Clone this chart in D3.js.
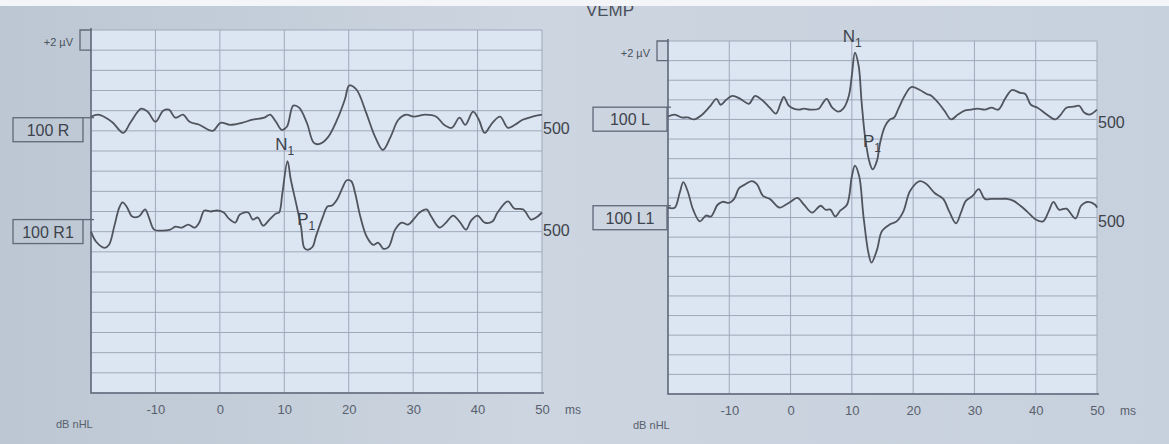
<!DOCTYPE html>
<html lang="en">
<head>
    <meta charset="UTF-8">
    <title>VEMP</title>
    <style>
        body {
            margin: 0;
            background: #c9d3df;
            font-family: 'Liberation Sans', Arial, sans-serif;
        }
        svg text {
            font-family: 'Liberation Sans', Arial, sans-serif;
        }
    </style>
</head>
<body>
    <div id="chart"></div>

    <script src="https://d3js.org/d3.v7.min.js"></script>
    <script>
        // time ticks (ms) shown under each panel
        const timeTicks = [-10, 0, 10, 20, 30, 40, 50];
        const timeDomain = [-20, 50];
        // amplitude range in uV (0 at the top of the grid, 2 uV per row)
        const ampDomain = [-36, 0];
        const ampStep = 2;

        // traces: [ms, uV relative to the trace baseline]
        const traceR = [[-20,0.4],[-18.9,0.6],[-17.7,0.3],[-16.6,-0.2],[-15,-1.2],[-13.9,-0.2],[-12.2,1.2],[-11.2,0.9],[-10,-0.1],[-8.8,1.0],[-7.9,1.1],[-6.9,0.3],[-5.7,0.6],[-4.7,-0.1],[-3.2,-0.4],[-1.1,-1.0],[0.1,-0.2],[1.6,-0.4],[3.4,-0.2],[5.1,0.1],[6.9,0.3],[7.8,0.6],[8.7,-0.1],[9.6,-0.9],[10.4,-0.6],[11.4,1.5],[12.3,1.3],[13.5,-0.2],[14.6,-2.2],[15.5,-2.3],[16.7,-1.7],[18.2,0.1],[19.4,2.1],[20.1,3.5],[21.2,3.1],[22.7,0.8],[24.1,-1.6],[25.3,-2.9],[26.5,-1.6],[27.7,0.1],[28.9,0.6],[30.1,0.4],[31.9,0.6],[33.6,0.4],[34.8,-0.4],[36,-0.7],[37.2,0.3],[38.1,-0.4],[39.3,0.9],[40.2,0.1],[41.1,-1.2],[42.3,-0.2],[43.5,0.4],[44.7,-0.7],[45.8,-0.4],[47,0.1],[48.5,0.4],[50,0.6]];
        const traceR1 = [[-20,-1.0],[-19.2,-2.0],[-17.9,-2.6],[-17.2,-2.3],[-16.4,-0.5],[-15.6,1.4],[-15.1,1.9],[-14.4,1.4],[-13.6,0.5],[-12.6,0.5],[-11.6,1.2],[-11,0.4],[-10.2,-0.8],[-9,-0.9],[-7.7,-0.8],[-6.9,-0.5],[-5.9,-0.6],[-4.9,-0.3],[-3.9,-0.6],[-3.2,-0.1],[-2.4,1.1],[-1.4,1.0],[-0.4,1.1],[0.6,0.9],[1.4,0.3],[2.4,-0.1],[3.1,0.7],[4.4,0.9],[5.1,0.2],[5.9,0.4],[6.7,-0.4],[7.7,0.2],[8.7,0.8],[9.2,0.9],[9.7,2.8],[10.5,6.0],[11,4.2],[11.8,1.9],[12.6,-0.5],[13.1,-2.6],[13.6,-2.8],[14.4,-2.5],[14.9,-1.5],[16,0.5],[16.7,1.5],[17.4,1.6],[18.2,2.2],[19,3.3],[19.7,4.1],[20.4,4.0],[21,2.8],[21.8,0.5],[22.8,-1.5],[23.8,-2.3],[24.6,-2.1],[25.4,-2.7],[26.2,-2.5],[27.2,-0.8],[28.2,-0.1],[29.2,-0.3],[30.3,0.4],[31,0.9],[32.1,1.2],[32.8,0.5],[34.1,-0.6],[35.1,-0.1],[36.2,0.6],[37.2,0.0],[38.2,-0.8],[39,0.1],[40,0.6],[41.1,-0.1],[42.3,0.0],[43.1,0.9],[44.7,2.0],[45.7,1.3],[47.1,1.2],[48.3,0.2],[49.1,0.4],[50,0.9]];
        const traceL = [[-20,0.3],[-18.9,0.5],[-17.8,0.2],[-16.8,0.2],[-15.7,0.0],[-14.6,0.4],[-13.2,1.3],[-12.1,2.1],[-11.4,1.5],[-10.5,2.0],[-9.5,2.4],[-8.2,2.1],[-6.8,1.6],[-5.8,2.4],[-4.7,2.0],[-3.4,1.2],[-2.4,0.6],[-1.6,1.7],[-1.1,2.3],[-0.3,1.4],[0.5,1.1],[1.4,1.0],[2.2,1.1],[3.2,1.0],[4.6,1.1],[5.4,1.8],[5.9,2.1],[6.8,1.2],[7.8,0.8],[8.6,1.1],[9.5,2.4],[10,4.5],[10.5,6.8],[11.1,5.5],[11.6,1.7],[12.2,-2.0],[12.9,-4.4],[13.4,-5.1],[14.1,-4.2],[14.6,-2.4],[15.4,-0.7],[16.2,0.0],[16.9,0.2],[17.6,1.1],[18.6,2.4],[19.7,3.3],[21.1,3.0],[22.2,2.6],[23,2.4],[24.1,1.7],[25.1,0.9],[26.2,0.0],[27.3,0.5],[28.4,0.9],[29.5,1.0],[30.5,1.1],[31.7,1.0],[32.8,1.2],[33.9,1.0],[35,2.1],[36.1,3.0],[37.5,2.7],[38.3,2.6],[39.2,1.5],[40.3,1.2],[41.8,0.5],[43.2,0.0],[44.1,0.5],[45,1.2],[46.2,1.3],[47.1,1.4],[47.9,0.7],[48.8,0.5],[50,1.0]];
        const traceL1 = [[-20,0.0],[-18.9,0.0],[-18.1,1.5],[-17.5,2.6],[-16.8,1.7],[-15.9,-0.2],[-14.8,-1.4],[-13.8,-0.8],[-13,-0.9],[-11.9,0.3],[-11.1,0.6],[-10,0.5],[-9.2,0.9],[-8.4,2.0],[-7.6,2.3],[-6.3,2.7],[-5.5,2.4],[-4.5,1.2],[-3.4,0.9],[-1.8,0.0],[-0.8,0.3],[0,0.6],[1.1,1.0],[2.2,0.3],[3.5,-0.5],[4.9,0.2],[5.7,-0.2],[6.5,-0.2],[7.3,-0.9],[8.1,-0.3],[9.2,0.3],[10,3.2],[10.5,4.3],[11.2,3.2],[11.9,-0.9],[12.7,-4.6],[13.2,-5.6],[14.1,-4.3],[14.9,-2.4],[16.2,-1.7],[17.3,-1.4],[18.4,-0.4],[19.5,1.7],[21.1,2.7],[22.2,2.4],[23.5,1.5],[24.9,0.9],[25.9,-0.4],[27,-1.6],[27.8,-0.5],[28.6,0.7],[29.7,1.2],[30.7,1.9],[31.7,0.9],[32.8,0.9],[34.2,0.9],[35.3,0.9],[36.4,0.7],[37.5,0.2],[38.6,-0.4],[40,-1.2],[41.2,-1.4],[42.1,-0.4],[42.9,0.6],[43.8,-0.2],[45,-0.1],[46.5,-1.1],[47.4,0.2],[48.5,0.6],[49.7,0.3],[50,0.0]];

        // trace names, baselines (uV from top) and marker levels for the label boxes
        const leftNames = ["100 R", "100 R1"];
        const rightNames = ["100 L", "100 L1"];
        const leftBaselines = [-9, -19];
        const rightBaselines = [-8, -17];
        const leftMarkers = [-8.7, -18.8];
        const rightMarkers = [-6.75, -16.8];
        const endLabel = "500";

        // peak labels [ms, uV] for N1 / P1
        const leftPeaks = [["N", 8.6, -11.9], ["P", 12.0, -19.3]];
        const rightPeaks = [["N", 8.5, -0.1], ["P", 11.8, -10.8]];

        const width = 1169, height = 444;

        const svg = d3.select("#chart").append("svg")
            .attr("width", width)
            .attr("height", height);

        // photo-like paper background
        const grad = svg.append("defs").append("linearGradient")
            .attr("id", "paper")
            .attr("x1", "0%").attr("x2", "100%");
        grad.append("stop").attr("offset", "0%").attr("stop-color", "#bcc7d3");
        grad.append("stop").attr("offset", "45%").attr("stop-color", "#ccd5e0");
        grad.append("stop").attr("offset", "100%").attr("stop-color", "#c7d1dd");
        svg.append("rect")
            .attr("width", width)
            .attr("height", height)
            .attr("fill", "url(#paper)");

        svg.append("text")
            .attr("x", 610)
            .attr("y", 16)
            .attr("text-anchor", "middle")
            .attr("font-size", 17)
            .attr("fill", "#4b515b")
            .text("VEMP");

        const panels = [
            { x0: 91, x1: 542, y0: 30, y1: 393, traces: [traceR, traceR1], names: leftNames,
              bases: leftBaselines, markers: leftMarkers, peaks: leftPeaks, boxX: 13, boxW: 70, endDy: 16 },
            { x0: 668, x1: 1097, y0: 41, y1: 394, traces: [traceL, traceL1], names: rightNames,
              bases: rightBaselines, markers: rightMarkers, peaks: rightPeaks, boxX: 593, boxW: 74, endDy: 21 }
        ];

        panels.forEach(p => drawPanel(p));

        // thin white strip at the top edge of the photo
        svg.append("rect")
            .attr("width", width)
            .attr("height", 6)
            .attr("fill", "#f3f5f8");

        function drawPanel(p) {
            const x = d3.scaleLinear().domain(timeDomain).range([p.x0, p.x1]);
            const y = d3.scaleLinear().domain(ampDomain).range([p.y1, p.y0]);
            const g = svg.append("g");

            g.append("rect")
                .attr("x", p.x0).attr("y", p.y0)
                .attr("width", p.x1 - p.x0).attr("height", p.y1 - p.y0)
                .attr("fill", "#dce5f2");

            // horizontal grid, one line every 2 uV
            const rows = d3.range(ampDomain[0], ampDomain[1] + 0.001, ampStep);
            g.selectAll(".hgrid").data(rows).enter().append("line")
                .attr("x1", p.x0).attr("x2", p.x1)
                .attr("y1", d => y(d)).attr("y2", d => y(d))
                .attr("stroke", "#9ea9b9")
                .attr("stroke-width", 1);

            // vertical grid at time ticks
            g.selectAll(".vgrid").data(timeTicks).enter().append("line")
                .attr("x1", d => x(d)).attr("x2", d => x(d))
                .attr("y1", p.y0).attr("y2", p.y1)
                .attr("stroke", "#9ea9b9")
                .attr("stroke-width", 1);

            // frame: left and bottom drawn darker
            g.append("path")
                .attr("d", `M${p.x0},${p.y0 - 2}V${p.y1}H${p.x1 + 2}`)
                .attr("fill", "none")
                .attr("stroke", "#5f6878")
                .attr("stroke-width", 1.6);

            // x axis labels
            const axis = d3.axisBottom(x)
                .tickValues(timeTicks)
                .tickSize(0)
                .tickPadding(12)
                .tickFormat(d => String(d));
            const ax = g.append("g")
                .attr("transform", `translate(0,${p.y1})`)
                .call(axis);
            ax.select(".domain").remove();
            ax.selectAll("text")
                .attr("font-size", 13)
                .attr("fill", "#59606d");

            g.append("text")
                .attr("x", p.x1 + 23)
                .attr("y", p.y1 + 21)
                .attr("font-size", 12)
                .attr("fill", "#59606d")
                .text("ms");

            g.append("text")
                .attr("x", p.x0 - 35)
                .attr("y", p.y1 + 35)
                .attr("font-size", 11)
                .attr("fill", "#59606d")
                .text("dB nHL");

            // +2 uV calibration bracket
            g.append("path")
                .attr("d", `M${p.x0},${y(ampDomain[1])}H${p.x0 - 11}V${y(ampDomain[1] - ampStep)}H${p.x0}`)
                .attr("fill", "none")
                .attr("stroke", "#5f6878")
                .attr("stroke-width", 1.3);
            g.append("text")
                .attr("x", p.x0 - 18)
                .attr("y", p.y0 + 16)
                .attr("text-anchor", "end")
                .attr("font-size", 11)
                .attr("fill", "#4b515b")
                .text("+2 µV");

            const line = d3.line()
                .x(d => x(d[0]))
                .curve(d3.curveCatmullRom.alpha(0.5));

            p.traces.forEach((tr, i) => {
                const base = p.bases[i];
                g.append("path")
                    .datum(tr)
                    .attr("d", line.y(d => y(base + d[1])))
                    .attr("fill", "none")
                    .attr("stroke", "#4f545d")
                    .attr("stroke-width", 1.8)
                    .attr("stroke-linejoin", "round");

                const my = y(p.markers[i]);
                g.append("rect")
                    .attr("x", p.boxX).attr("y", my)
                    .attr("width", p.boxW).attr("height", 24)
                    .attr("fill", "none")
                    .attr("stroke", "#5f6878")
                    .attr("stroke-width", 1.3);
                g.append("line")
                    .attr("x1", p.boxX + p.boxW).attr("x2", p.x0 + 3)
                    .attr("y1", my).attr("y2", my)
                    .attr("stroke", "#5f6878")
                    .attr("stroke-width", 1.3);
                g.append("text")
                    .attr("x", p.boxX + p.boxW / 2)
                    .attr("y", my + 18)
                    .attr("text-anchor", "middle")
                    .attr("font-size", 16)
                    .attr("fill", "#3e434c")
                    .text(p.names[i]);

                g.append("text")
                    .attr("x", p.x1 + 1)
                    .attr("y", my + p.endDy)
                    .attr("font-size", 16)
                    .attr("fill", "#3e434c")
                    .text(endLabel);
            });

            p.peaks.forEach(pk => {
                const t = g.append("text")
                    .attr("x", x(pk[1]))
                    .attr("y", y(pk[2]))
                    .attr("font-size", 17)
                    .attr("fill", "#3e434c");
                t.append("tspan").text(pk[0]);
                t.append("tspan")
                    .attr("font-size", 12)
                    .attr("dy", 5)
                    .attr("fill", "#3e434c")
                    .text("1");
            });
        }
    </script>
</body>
</html>
